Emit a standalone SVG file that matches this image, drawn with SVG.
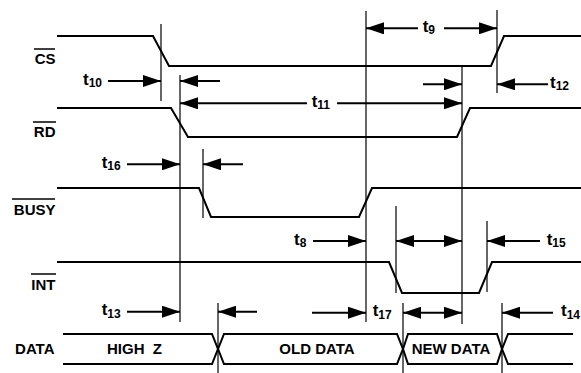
<svg xmlns="http://www.w3.org/2000/svg" width="581" height="373" viewBox="0 0 581 373">
<style>
text{font-family:"Liberation Sans",Arial,sans-serif;font-weight:bold;fill:#000}
.lbl{font-size:15px}
.t{font-size:17px}
.s{font-size:12px}
.wave{fill:none;stroke:#000;stroke-width:2}
.ol{stroke:#000;stroke-width:1.5}
.v{stroke:#000;stroke-width:1.2;fill:none}
.a{stroke:#000;stroke-width:2;fill:none;marker-end:url(#ah)}
.aa{stroke:#000;stroke-width:2;fill:none;marker-end:url(#ah);marker-start:url(#ah)}
</style>
<defs>
<marker id="ah" markerUnits="userSpaceOnUse" markerWidth="19" markerHeight="12" refX="18" refY="6" orient="auto-start-reverse">
<path d="M0,0 L18,6 L0,12 z" fill="#000"/>
</marker>
</defs>
<rect width="581" height="373" fill="#fff"/>

<g id="cs">
<text class="lbl" x="55.5" y="64.3" text-anchor="end">CS</text>
<line class="ol" x1="34" y1="49" x2="55" y2="49"/>
<path class="wave" d="M57,36 H153 L169,66 H491 L504,36 H581"/>
</g>
<g id="rd">
<text class="lbl" x="55.5" y="136.7" text-anchor="end">RD</text>
<line class="ol" x1="33" y1="122" x2="56" y2="122"/>
<path class="wave" d="M57,108 H171 L188,137 H457 L470,108 H581"/>
</g>
<g id="busy">
<text class="lbl" x="55.5" y="215" text-anchor="end">BUSY</text>
<line class="ol" x1="12" y1="199" x2="55" y2="199"/>
<path class="wave" d="M57,188 H199 L211,217 H359 L372,188 H581"/>
</g>
<g id="int">
<text class="lbl" x="55.5" y="290" text-anchor="end">INT</text>
<line class="ol" x1="31" y1="274" x2="56" y2="274"/>
<path class="wave" d="M57,262 H389 L402,293 H479 L492,262 H581"/>
</g>
<g id="data">
<text class="lbl" x="54.5" y="354" text-anchor="end">DATA</text>
<path class="wave" d="M63,334 H212 L218,349 L224,334 H397 L403,349 L408,334 H497 L502,349 L508,334 H573"/>
<path class="wave" d="M63,364 H212 L218,349 L224,364 H397 L403,349 L408,364 H497 L502,349 L508,364 H573"/>
<text class="lbl" x="134.5" y="354" text-anchor="middle" xml:space="preserve">HIGH  Z</text>
<text class="lbl" x="317" y="354" text-anchor="middle">OLD DATA</text>
<text class="lbl" x="451" y="354" text-anchor="middle">NEW DATA</text>
</g>

<g id="connectors">
<line class="v" x1="161" y1="24" x2="161" y2="101"/>
<line class="v" x1="180" y1="75" x2="180" y2="322"/>
<line class="v" x1="203" y1="149" x2="203" y2="218"/>
<line class="v" x1="218" y1="303" x2="218" y2="373"/>
<line class="v" x1="366" y1="11" x2="366" y2="322"/>
<line class="v" x1="497" y1="10" x2="497" y2="93"/>
<line class="v" x1="462" y1="66" x2="462" y2="324"/>
<line class="v" x1="396" y1="206" x2="396" y2="293"/>
<line class="v" x1="487" y1="221" x2="487" y2="292"/>
<line class="v" x1="403" y1="303" x2="403" y2="373"/>
<line class="v" x1="502" y1="303" x2="502" y2="373"/>

<line class="a" x1="108" y1="81" x2="161" y2="81"/>
<line class="a" x1="220" y1="81" x2="180" y2="81"/>
<line class="a" x1="307" y1="103.3" x2="180" y2="103.3"/>
<line class="a" x1="337" y1="103.3" x2="462" y2="103.3"/>
<line class="a" x1="423" y1="84.3" x2="462" y2="84.3"/>
<line class="a" x1="418" y1="28.3" x2="366" y2="28.3"/>
<line class="a" x1="444" y1="28.3" x2="497" y2="28.3"/>
<line class="a" x1="548" y1="84.3" x2="497" y2="84.3"/>
<line class="a" x1="127" y1="164.3" x2="180" y2="164.3"/>
<line class="a" x1="243" y1="164.3" x2="203" y2="164.3"/>
<line class="a" x1="313" y1="241" x2="366" y2="241"/>
<line class="aa" x1="396" y1="241" x2="462" y2="241"/>
<line class="a" x1="540" y1="241" x2="487" y2="241"/>
<line class="a" x1="127" y1="311.7" x2="180" y2="311.7"/>
<line class="a" x1="257" y1="311.7" x2="218" y2="311.7"/>
<line class="a" x1="312" y1="312.7" x2="366" y2="312.7"/>
<line class="aa" x1="403" y1="312.7" x2="462" y2="312.7"/>
<line class="a" x1="553" y1="312.7" x2="502" y2="312.7"/>
</g>

<g id="timing-labels">
<text class="t" x="83" y="84.5">t<tspan class="s" dy="2.5">10</tspan></text>
<text class="t" x="311.7" y="106.8">t<tspan class="s" dy="2.5">11</tspan></text>
<text class="t" x="422.7" y="31.8">t<tspan class="s" dy="2.5">9</tspan></text>
<text class="t" x="550" y="87.8">t<tspan class="s" dy="2.5">12</tspan></text>
<text class="t" x="101.7" y="167.8">t<tspan class="s" dy="2.5">16</tspan></text>
<text class="t" x="294" y="244.5">t<tspan class="s" dy="2.5">8</tspan></text>
<text class="t" x="546.7" y="244.5">t<tspan class="s" dy="2.5">15</tspan></text>
<text class="t" x="101.7" y="315.2">t<tspan class="s" dy="2.5">13</tspan></text>
<text class="t" x="372.7" y="316.2">t<tspan class="s" dy="2.5">17</tspan></text>
<text class="t" x="561" y="316.2">t<tspan class="s" dy="2.5">14</tspan></text>
</g>
</svg>
